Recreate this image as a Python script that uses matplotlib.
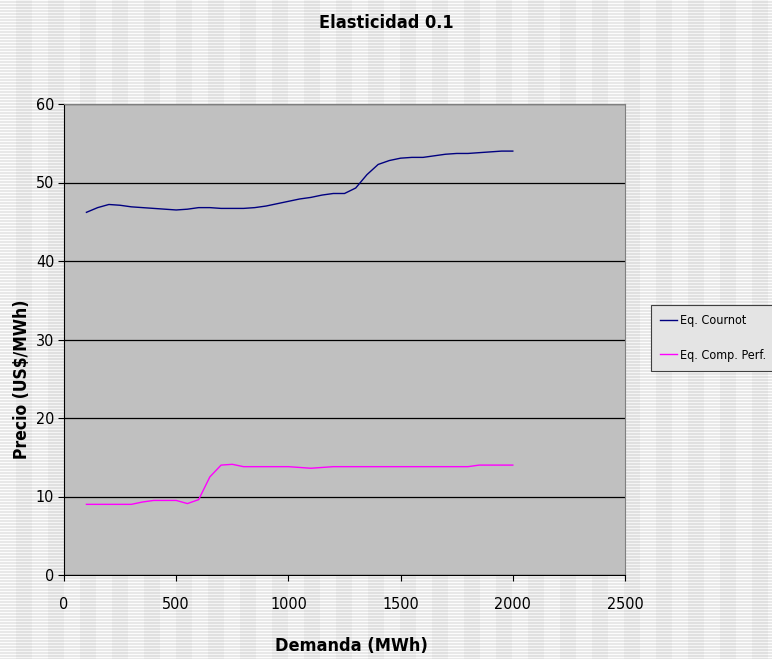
import numpy as np
import matplotlib
matplotlib.use("Agg")
import matplotlib.pyplot as plt

plt.rcParams["font.family"] = ["DejaVu Sans"]
plt.rcParams["font.stretch"] = "condensed"

# Demanda (MWh)
demanda = [100, 150, 200, 250, 300, 350, 400, 450, 500, 550, 600, 650, 700, 750,
           800, 850, 900, 950, 1000, 1050, 1100, 1150, 1200, 1250, 1300, 1350,
           1400, 1450, 1500, 1550, 1600, 1650, 1700, 1750, 1800, 1850, 1900,
           1950, 2000]

cournot = [46.2, 46.8, 47.2, 47.1, 46.9, 46.8, 46.7, 46.6, 46.5, 46.6, 46.8,
           46.8, 46.7, 46.7, 46.7, 46.8, 47.0, 47.3, 47.6, 47.9, 48.1, 48.4,
           48.6, 48.6, 49.3, 51.0, 52.3, 52.8, 53.1, 53.2, 53.2, 53.4, 53.6,
           53.7, 53.7, 53.8, 53.9, 54.0, 54.0]

comp_perf = [9.0, 9.0, 9.0, 9.0, 9.0, 9.3, 9.5, 9.5, 9.5, 9.1, 9.6, 12.5, 14.0,
             14.1, 13.8, 13.8, 13.8, 13.8, 13.8, 13.7, 13.6, 13.7, 13.8, 13.8,
             13.8, 13.8, 13.8, 13.8, 13.8, 13.8, 13.8, 13.8, 13.8, 13.8, 13.8,
             14.0, 14.0, 14.0, 14.0]

W, H = 772, 659
fig = plt.figure(figsize=(W / 100, H / 100), dpi=100)

# striped slide background
rows = np.arange(H)[:, None]
cols = np.arange(W)[None, :]
bg = np.where(rows % 3 == 0, 0.99, 0.91) - np.where((cols // 16) % 2 == 0, 0.0, 0.03)
bg = np.repeat(bg[:, :, None], 3, axis=2)
fig.figimage(bg, xo=0, yo=0, zorder=-10)

ax = fig.add_axes([64 / W, 1 - 575 / H, (625 - 64) / W, (575 - 104) / H])
ax.set_facecolor("#C0C0C0")

ax.plot(demanda, cournot, color="#000080", linewidth=1.0, label="Eq. Cournot")
ax.plot(demanda, comp_perf, color="#FF00FF", linewidth=1.0, label="Eq. Comp. Perf.")

ax.set_xlim(0, 2500)
ax.set_ylim(0, 60)
ax.set_xticks(range(0, 2501, 500))
ax.set_yticks(range(0, 61, 10))
ax.yaxis.grid(True, color="black", linewidth=0.9)
ax.set_axisbelow(True)

for side in ["top", "right"]:
    ax.spines[side].set_color("#808080")
ax.spines["left"].set_color("black")
ax.spines["bottom"].set_color("black")
ax.tick_params(direction="out", length=4, labelsize=11.5)
ax.tick_params(axis="x", pad=12)
ax.tick_params(axis="y", pad=3)

fig.suptitle("Elasticidad 0.1", fontsize=13, fontweight="bold", x=0.5, y=1 - 23 / H, va="center")
ax.set_xlabel("Demanda (MWh)", fontsize=13, fontweight="bold", va="center")
ax.xaxis.set_label_coords(0.513, -0.151)
ax.set_ylabel("Precio (US$/MWh)", fontsize=12.5, fontweight="bold", va="center")
ax.yaxis.set_label_coords(-0.075, 0.416)

leg = ax.legend(loc="upper left", bbox_to_anchor=(651 / W, 1 - 305 / H),
                bbox_transform=fig.transFigure, fontsize=9, frameon=True,
                fancybox=False, edgecolor="#404040", facecolor="#E4E4E4",
                framealpha=1, handlelength=1.3, handletextpad=0.3,
                borderpad=0.75, labelspacing=1.7, borderaxespad=0)
leg.get_frame().set_linewidth(0.8)

fig.savefig("out.png", dpi=100)
